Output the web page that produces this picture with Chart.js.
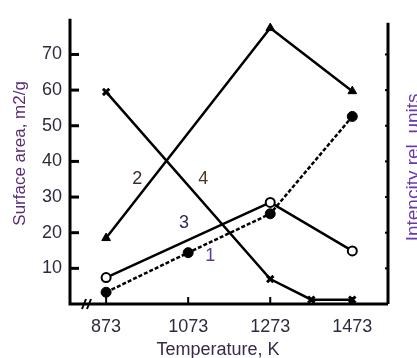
<!DOCTYPE html>
<html>
<head>
<style>
    body {
        margin: 0;
        background: #fff;
    }
</style>
</head>
<body>
    <canvas id="chart" width="417" height="358"></canvas>

<script src="https://cdn.jsdelivr.net/npm/chart.js@4"></script>
<script>
    // Temperatures (K) on the x axis
    const tempTicks = [873, 1073, 1273, 1473];
    const areaTicks = [10, 20, 30, 40, 50, 60, 70];

    // Curve 1 (dashed, filled circles)
    const temp1 = [873, 1073, 1273, 1473];
    const area1 = [3.3, 14.4, 25.3, 52.6];
    // Curve 2 (triangles)
    const temp2 = [873, 1273, 1473];
    const area2 = [18.5, 77.4, 59.7];
    // Curve 3 (open circles)
    const temp3 = [873, 1273, 1473];
    const area3 = [7.4, 28.5, 14.9];
    // Curve 4 (crosses)
    const temp4 = [873, 1273, 1373, 1473];
    const area4 = [59.5, 7.0, 1.2, 1.2];

    // Curve numbers written next to the lines
    const curveNames = ['1', '2', '3', '4'];
    const curveNameTemp = [1127, 949, 1063, 1110];
    const curveNameArea = [13.5, 35, 22.6, 35];
    const curveNameColors = ['#5b3a9c', '#3b2a25', '#2e2a55', '#4a3a25'];

    const toPoints = (xs, ys) => xs.map((x, i) => ({x: x, y: ys[i]}));
    const FONT = 'Liberation Sans, Arial, sans-serif';

    // Axes, tick marks, break mark, titles and curve numbers
    const decorations = {
        id: 'decorations',
        afterDraw(chart) {
            const ctx = chart.ctx;
            const a = chart.chartArea;
            const x = chart.scales.x;
            const y = chart.scales.y;
            ctx.save();
            ctx.strokeStyle = '#000';
            ctx.lineCap = 'butt';

            // axis lines
            ctx.lineWidth = 3;
            ctx.beginPath();
            ctx.moveTo(a.left, a.top);
            ctx.lineTo(a.left, a.bottom);
            ctx.lineTo(a.right, a.bottom);
            ctx.moveTo(a.right, a.top + 4);
            ctx.lineTo(a.right, a.bottom);
            ctx.stroke();

            // left ticks, inward
            areaTicks.forEach(v => {
                const py = y.getPixelForValue(v);
                ctx.beginPath();
                ctx.moveTo(a.left, py);
                ctx.lineTo(a.left + 9, py);
                ctx.stroke();
            });

            // right minor ticks
            ctx.lineWidth = 2;
            areaTicks.forEach(v => {
                const py = y.getPixelForValue(v);
                ctx.beginPath();
                ctx.moveTo(a.right, py);
                ctx.lineTo(a.right - 3, py);
                ctx.stroke();
            });

            // bottom ticks, upward
            ctx.lineWidth = 2;
            tempTicks.forEach(v => {
                const px = x.getPixelForValue(v);
                ctx.beginPath();
                ctx.moveTo(px, a.bottom);
                ctx.lineTo(px, a.bottom - 7);
                ctx.stroke();
            });

            // axis break
            ctx.lineWidth = 2;
            const bx = a.left + 14;
            [0, 5].forEach(d => {
                ctx.beginPath();
                ctx.moveTo(bx + d - 2, a.bottom + 5);
                ctx.lineTo(bx + d + 2, a.bottom - 5);
                ctx.stroke();
            });

            // curve numbers
            ctx.font = '18px ' + FONT;
            ctx.textAlign = 'center';
            ctx.textBaseline = 'middle';
            curveNames.forEach((n, i) => {
                ctx.fillStyle = curveNameColors[i];
                ctx.fillText(n, x.getPixelForValue(curveNameTemp[i]), y.getPixelForValue(curveNameArea[i]));
            });

            // axis titles
            ctx.fillStyle = '#3a2a45';
            ctx.font = '18px ' + FONT;
            ctx.fillText('Temperature, K', (a.left + a.right) / 2 - 11, a.bottom + 46);

            ctx.save();
            ctx.translate(20, (a.top + a.bottom) / 2 - 8);
            ctx.rotate(-Math.PI / 2);
            ctx.fillStyle = '#5a2d72';
            ctx.font = '17px ' + FONT;
            ctx.fillText('Surface area, m2/g', 0, 0);
            ctx.restore();

            ctx.save();
            ctx.translate(a.right + 26, (a.top + a.bottom) / 2 + 6);
            ctx.rotate(-Math.PI / 2);
            ctx.fillStyle = '#6a38a8';
            ctx.font = '19px ' + FONT;
            ctx.fillText('Intencity rel. units', 0, 0);
            ctx.restore();

            ctx.restore();
        }
    };

    const ctx = document.getElementById('chart').getContext('2d');
    const chart = new Chart(ctx, {
        type: 'scatter',
        data: {
            datasets: [
                {
                    data: toPoints(temp1, area1),
                    showLine: true,
                    borderColor: '#000',
                    borderWidth: 2.5,
                    borderDash: [4, 2],
                    pointStyle: 'circle',
                    pointRadius: 5,
                    pointBackgroundColor: '#000',
                    pointBorderColor: '#000',
                    pointBorderWidth: 1
                },
                {
                    data: toPoints(temp2, area2),
                    showLine: true,
                    borderColor: '#000',
                    borderWidth: 2.5,
                    pointStyle: 'triangle',
                    pointRadius: 5,
                    pointBackgroundColor: '#000',
                    pointBorderColor: '#000',
                    pointBorderWidth: 1
                },
                {
                    data: toPoints(temp3, area3),
                    showLine: true,
                    borderColor: '#000',
                    borderWidth: 2.5,
                    pointStyle: 'circle',
                    pointRadius: 4.5,
                    pointBackgroundColor: '#fff',
                    pointBorderColor: '#000',
                    pointBorderWidth: 2
                },
                {
                    data: toPoints(temp4, area4),
                    showLine: true,
                    borderColor: '#000',
                    borderWidth: 2.5,
                    pointStyle: 'crossRot',
                    pointRadius: 4.5,
                    pointBorderColor: '#000',
                    pointBorderWidth: 3
                }
            ]
        },
        options: {
            responsive: false,
            animation: false,
            layout: {
                padding: {top: 13, left: 0, right: 0, bottom: 0}
            },
            plugins: {
                legend: {display: false},
                tooltip: {enabled: false}
            },
            scales: {
                x: {
                    type: 'linear',
                    min: 785,
                    max: 1560,
                    afterFit: s => { s.height = 54; },
                    afterBuildTicks: s => { s.ticks = tempTicks.map(v => ({value: v})); },
                    grid: {display: false, drawTicks: false},
                    border: {display: false},
                    ticks: {
                        padding: 12,
                        color: '#2e2a40',
                        font: {size: 18, family: FONT},
                        callback: v => String(v)
                    }
                },
                y: {
                    min: 0,
                    max: 80,
                    afterFit: s => { s.width = 70; },
                    afterBuildTicks: s => { s.ticks = areaTicks.map(v => ({value: v})); },
                    grid: {display: false, drawTicks: false},
                    border: {display: false},
                    ticks: {
                        padding: 8,
                        color: '#2e2a40',
                        font: {size: 18, family: FONT}
                    }
                },
                y2: {
                    position: 'right',
                    min: 0,
                    max: 80,
                    afterFit: s => { s.width = 29; },
                    grid: {display: false, drawTicks: false},
                    border: {display: false},
                    ticks: {display: false}
                }
            }
        },
        plugins: [decorations]
    });
</script>
</body>
</html>
